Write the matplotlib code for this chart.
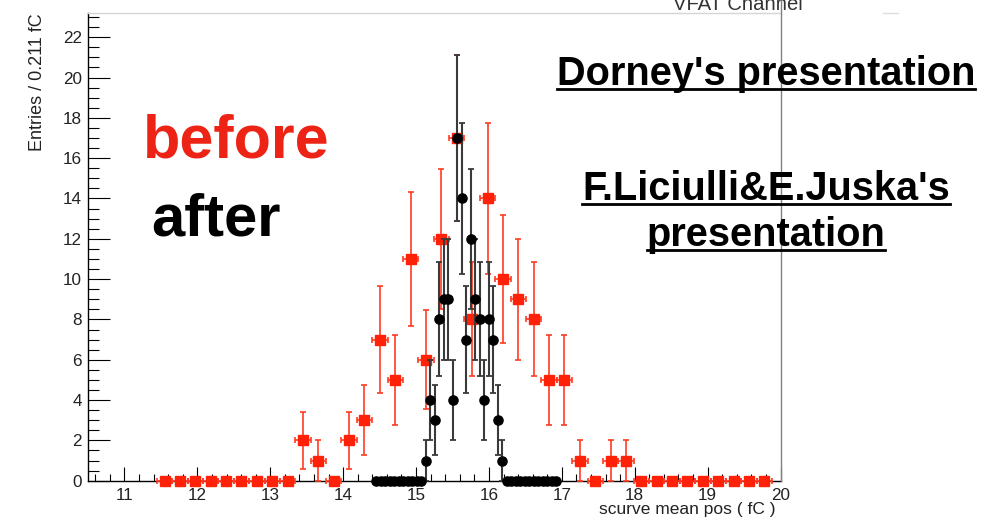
import numpy as np
import matplotlib
matplotlib.use("Agg")
import matplotlib.pyplot as plt
from matplotlib.ticker import MultipleLocator
from matplotlib.lines import Line2D

# ---- data -------------------------------------------------------------
# "before": 40 bins of 0.211 fC, first bin centre at 11.55 fC
before_first_center = 11.55
before_bin_width = 0.211
before_counts = [0, 0, 0, 0, 0, 0, 0, 0, 0, 2,
                 1, 0, 2, 3, 7, 5, 11, 6, 12, 17,
                 8, 14, 10, 9, 8, 5, 5, 1, 0, 1,
                 1, 0, 0, 0, 0, 0, 0, 0, 0, 0]

# "after": 40 finer bins, first bin centre at 14.457 fC
after_first_center = 14.457
after_bin_width = 0.0617
after_counts = [0, 0, 0, 0, 0, 0, 0, 0, 0, 0, 0,
                1, 4, 3, 8, 9, 9, 4, 17, 14, 7, 12, 9, 8, 4, 8, 7, 3, 1,
                0, 0, 0, 0, 0, 0, 0, 0, 0, 0, 0, 0]

x_ticks = [11, 12, 13, 14, 15, 16, 17, 18, 19, 20]
y_ticks = [0, 2, 4, 6, 8, 10, 12, 14, 16, 18, 20, 22]

# ---- style ------------------------------------------------------------
plt.rcParams["font.family"] = ["Liberation Sans", "DejaVu Sans"]
W, H = 990, 523
RED_MARK = "#ff2208"
RED_LINE = "#ff3b22"
TXT = "#222222"

fig = plt.figure(figsize=(W / 100, H / 100), dpi=100)
ax = fig.add_axes([88 / W, 42.3 / H, 692.5 / W, 467.7 / H])
ax.set_xlim(10.5, 20.0)
ax.set_ylim(0, 23.2)

b_counts = np.array(before_counts, dtype=float)
b_x = before_first_center + before_bin_width * np.arange(len(b_counts))
a_counts = np.array(after_counts, dtype=float)
a_x = after_first_center + after_bin_width * np.arange(len(a_counts))

red = ax.errorbar(b_x, b_counts, xerr=before_bin_width / 2, yerr=np.sqrt(b_counts),
                  fmt="s", ms=6.6, mfc=RED_MARK, mec=RED_MARK, ecolor=RED_LINE,
                  elinewidth=1.2, capsize=2.3, capthick=1.2, zorder=3)
blk = ax.errorbar(a_x, a_counts, xerr=after_bin_width / 2, yerr=np.sqrt(a_counts),
                  fmt="o", ms=6.6, mfc="black", mec="black", ecolor="#3a3a3a",
                  elinewidth=1.5, capsize=2.3, capthick=1.3, zorder=4)
for cont in (red, blk):
    for art in cont.get_children():
        art.set_clip_on(False)

# axes frame in the ROOT look
ax.spines["left"].set_color("black")
ax.spines["bottom"].set_color("black")
ax.spines["left"].set_linewidth(1.0)
ax.spines["bottom"].set_linewidth(1.0)
ax.spines["top"].set_color("#d6d6d6")
ax.spines["top"].set_linewidth(1.0)
ax.spines["right"].set_visible(False)

ax.xaxis.set_major_locator(plt.FixedLocator(x_ticks))
ax.xaxis.set_minor_locator(MultipleLocator(0.2))
ax.yaxis.set_major_locator(plt.FixedLocator(y_ticks))
ax.yaxis.set_minor_locator(MultipleLocator(0.5))
ax.tick_params(axis="both", which="both", direction="in", top=False, right=False,
               width=0.8, color="black", labelcolor=TXT, labelsize=12.3)
ax.tick_params(axis="x", which="major", length=10, pad=5)
ax.tick_params(axis="x", which="minor", length=5)
ax.tick_params(axis="y", which="major", length=15.8, pad=4.3)
ax.tick_params(axis="y", which="minor", length=7.9)

ax.set_xlabel("scurve mean pos ( fC )", fontsize=12.5, color=TXT, loc="right")
ax.xaxis.set_label_coords(0.9935, -0.045)
ax.xaxis.label.set_verticalalignment("top")
ax.set_ylabel("Entries / 0.211 fC", fontsize=13, color=TXT, loc="top")
ax.yaxis.set_label_coords(-0.061, 1.0)

# right-hand frame line running up to the top edge, and top gray remnants
fig.add_artist(Line2D([781 / W, 781 / W], [42.3 / H, 1.0], color="#808080", lw=1.0))
fig.add_artist(Line2D([883 / W, 898 / W], [1 - 12.5 / H, 1 - 12.5 / H], color="#dddddd", lw=1.0))
fig.text(738 / W, 1 - 9.5 / H, "VFAT Channel", ha="center", va="baseline",
         fontsize=14.6, color="#333333")

# labels for the two datasets
fig.text(143 / W, 1 - 157 / H, "before", ha="left", va="baseline",
         fontsize=44, fontweight="bold", color="#ec2315")
fig.text(151 / W, 1 - 235 / H, "after", ha="left", va="baseline",
         fontsize=43, fontweight="bold", color="black")

# underlined references
refs = [("Dorney's presentation", 85), ("F.Liciulli&E.Juska's", 200), ("presentation", 246)]
ref_texts = []
for s, base in refs:
    t = fig.text(766 / W, 1 - base / H, s, ha="center", va="baseline",
                 fontsize=28.6, fontweight="bold", color="black")
    ref_texts.append((t, base))

fig.canvas.draw()
renderer = fig.canvas.get_renderer()
for t, base in ref_texts:
    bb = t.get_window_extent(renderer)
    yl = 1 - (base + 3.5) / H
    fig.add_artist(Line2D([bb.x0 / W, bb.x1 / W], [yl, yl], color="black", lw=2.0))

fig.savefig("out.png", dpi=100)
